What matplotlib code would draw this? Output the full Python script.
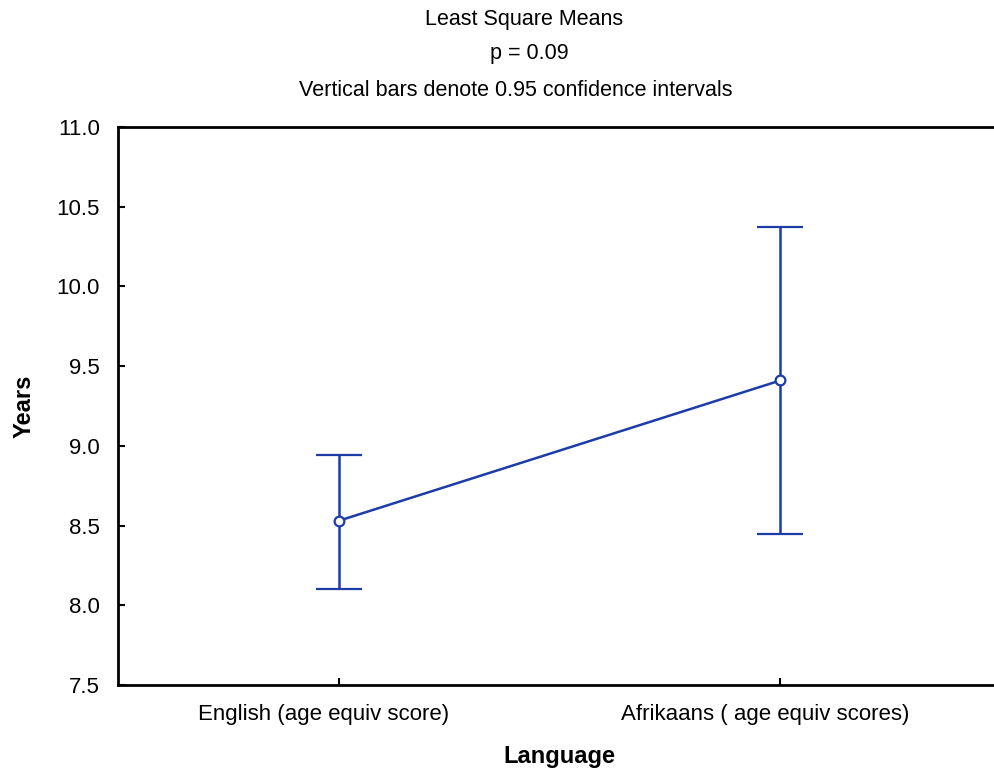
import matplotlib.pyplot as plt
from matplotlib.transforms import ScaledTranslation

plt.rcParams['font.family'] = ['Liberation Sans', 'DejaVu Sans']

# Least square means and 95% confidence limits
languages = ['English (age equiv score)', 'Afrikaans ( age equiv scores)']
means = [8.53, 9.41]
lower = [8.10, 8.45]
upper = [8.94, 10.37]

line_color = '#1c3ca8'

fig = plt.figure(figsize=(9.94, 7.73), dpi=100)
ax = fig.add_axes([118 / 994, 1 - 685 / 773, 883 / 994, 558 / 773])

x = list(range(len(languages)))
yerr = [[m - lo for m, lo in zip(means, lower)],
        [hi - m for m, hi in zip(means, upper)]]
ax.errorbar(x, means, yerr=yerr, color=line_color, lw=1.8, elinewidth=1.8,
            capsize=16.5, capthick=1.8, marker='o', markersize=7,
            markerfacecolor='white', markeredgecolor=line_color,
            markeredgewidth=1.6, zorder=3)

ax.set_xlim(-0.5, 1.5)
ax.set_ylim(7.5, 11.0)
ax.set_yticks([7.5, 8.0, 8.5, 9.0, 9.5, 10.0, 10.5, 11.0])
ax.set_yticklabels([f'{v:.1f}' for v in ax.get_yticks()])
ax.set_xticks(x)
ax.set_xticklabels(languages)

for s in ax.spines.values():
    s.set_linewidth(2)
ax.tick_params(direction='in', length=5, width=1.5, labelsize=16, pad=13)
ax.tick_params(axis='x', pad=14)

# category labels sit slightly left of their ticks
shift = ScaledTranslation(-15 / 100, 0, fig.dpi_scale_trans)
for lbl in ax.get_xticklabels():
    lbl.set_transform(lbl.get_transform() + shift)

ax.set_ylabel('Years', fontsize=17, fontweight='bold', labelpad=15)
ax.set_xlabel('Language', fontsize=17, fontweight='bold', labelpad=14)

fig.text(524 / 994, 1 - 20 / 773, 'Least Square Means', ha='center', va='center', fontsize=15.5)
fig.text(529 / 994, 1 - 54 / 773, 'p = 0.09', ha='center', va='center', fontsize=15.5)
fig.text(516 / 994, 1 - 90 / 773, 'Vertical bars denote 0.95 confidence intervals',
         ha='center', va='center', fontsize=15.5)

fig.savefig('out.png', dpi=100)
